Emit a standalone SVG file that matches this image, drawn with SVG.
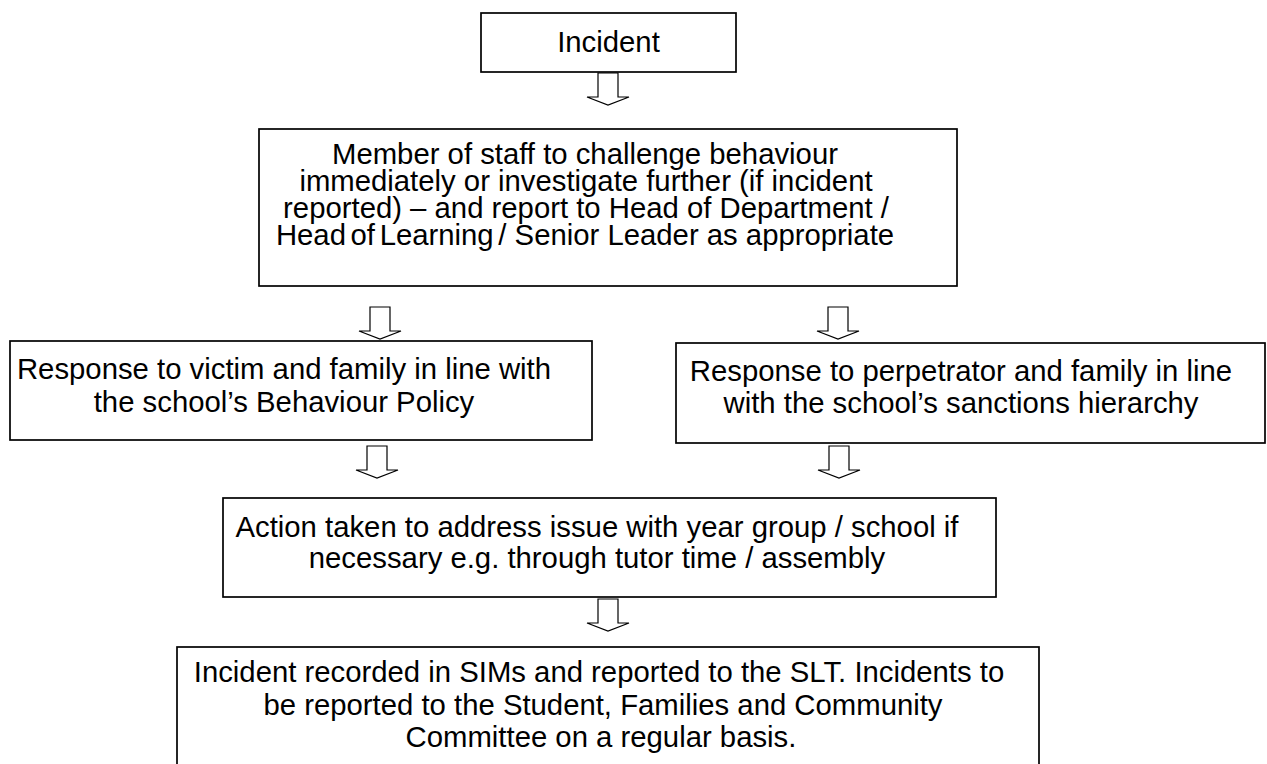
<svg xmlns="http://www.w3.org/2000/svg" width="1267" height="764" viewBox="0 0 1267 764">
<defs>
<style>
.box{fill:#fff;stroke:#000;stroke-width:1.7}
.arr{fill:#fff;stroke:#000;stroke-width:1.2;stroke-linejoin:miter}
text{font-family:"Liberation Sans",Arial,sans-serif;font-size:29.3px;fill:#000;text-anchor:middle}
</style>
<path id="blockArrow" d="M -10 0 L 10 0 L 10 24 L 21 24 L 0 32 L -21 24 L -10 24 Z"/>
</defs>
<rect width="1267" height="764" fill="#fff"/>
<g id="connectors">
<use href="#blockArrow" class="arr" transform="translate(608,73)"/>
<use href="#blockArrow" class="arr" transform="translate(380,307)"/>
<use href="#blockArrow" class="arr" transform="translate(838,307)"/>
<use href="#blockArrow" class="arr" transform="translate(377,446)"/>
<use href="#blockArrow" class="arr" transform="translate(839,446)"/>
<use href="#blockArrow" class="arr" transform="translate(608,599)"/>
</g>
<g id="incident">
<rect class="box" x="481" y="13" width="255" height="59"/>
<text x="608.5" y="52">Incident</text>
</g>
<g id="staff">
<rect class="box" x="259" y="129" width="698" height="157"/>
<text x="585" y="164">Member of staff to challenge behaviour</text>
<text x="586" y="191">immediately or investigate further (if incident</text>
<text x="586" y="218">reported) – and report to Head of Department /</text>
<text x="585" y="245"><tspan word-spacing="-3.5">Head of Learning /</tspan> Senior Leader as appropriate</text>
</g>
<g id="victim">
<rect class="box" x="10" y="341" width="582" height="99"/>
<text x="284" y="379">Response to victim and family in line with</text>
<text x="284" y="412">the school’s Behaviour Policy</text>
</g>
<g id="perpetrator">
<rect class="box" x="676" y="343" width="589" height="100"/>
<text x="961" y="381">Response to perpetrator and family in line</text>
<text x="961" y="413">with the school’s sanctions hierarchy</text>
</g>
<g id="action">
<rect class="box" x="223" y="498" width="773" height="99"/>
<text x="597" y="537">Action taken to address issue with year group / school if</text>
<text x="597" y="568">necessary e.g. through tutor time / assembly</text>
</g>
<g id="recorded">
<rect class="box" x="177" y="647" width="862" height="130"/>
<text x="599" y="682">Incident recorded in SIMs and reported to the SLT. Incidents to</text>
<text x="603" y="715">be reported to the Student, Families and Community</text>
<text x="601" y="747">Committee on a regular basis.</text>
</g>
</svg>
